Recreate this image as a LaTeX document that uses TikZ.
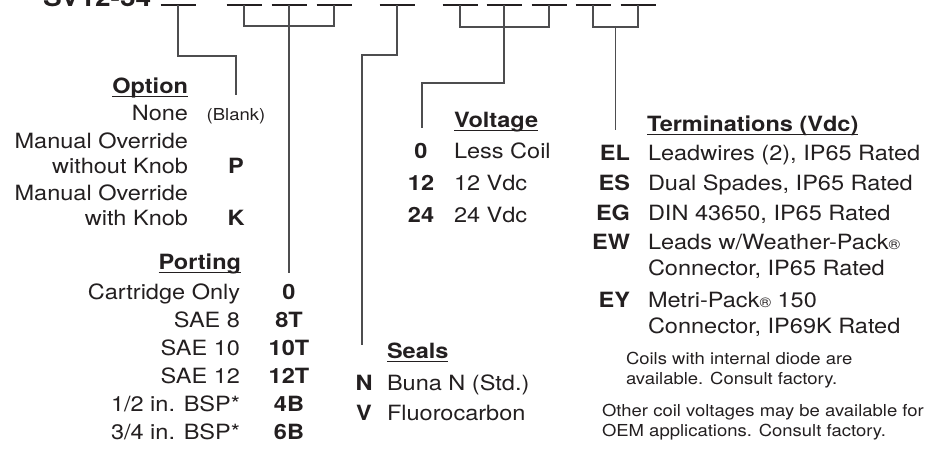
\documentclass[tikz,border=0pt]{standalone}
\usepackage{fontspec}
\setmainfont{TeX Gyre Heros}[FakeStretch=1.12]
\definecolor{ink}{HTML}{231F20}
\definecolor{wirec}{HTML}{4D4D4F}
\begin{document}
\begin{tikzpicture}[x=1pt,y=-1pt,
  every node/.style={inner sep=0pt, outer sep=0pt, text=ink},
  big/.style={font=\fontsize{21}{25}\selectfont},
  bigb/.style={font=\fontsize{21}{25}\selectfont\bfseries},
  small/.style={font=\fontsize{16.5}{20}\selectfont},
  wire/.style={draw=wirec, line width=1.3pt},
  blank/.style={draw=ink, line width=1.2pt},
  uline/.style={draw=ink, line width=1.4pt},
  lbl/.style={big, anchor=base east},
  lblw/.style={big, anchor=base west},
  code/.style={bigb, anchor=base},
  codee/.style={bigb, anchor=base east},
  ttl/.style={bigb}]
\useasboundingbox (0,0) rectangle (940,456);

% part number title (cut off at top)
\node[font=\fontsize{25}{30}\selectfont\bfseries, anchor=base west] (title) at (43,6) {SV12-34};

% blanks
\foreach \n/\x in {1/178,2/244,3/289,4/334,5/397,6/460,7/504,8/549,9/593,10/638}{
  \coordinate (b\n) at (\x,5);
  \draw[blank] ([xshift=-17.5pt]b\n) -- ([xshift=17.5pt]b\n);
}
\coordinate (b910) at (615.5,5);

% connector end points
\coordinate (optend) at (236,95);
\coordinate (portend) at (289,273);
\coordinate (sealend) at (362,345);
\coordinate (voltend) at (422,128);
\coordinate (termend) at (615.5,130);

% connectors
\draw[wire] (b1) -- (b1 |- 0,56) -| (optend);
\draw[wire] (b2) -- (b2 |- 0,26) -- (b4 |- 0,26) -- (b4);
\draw[wire] (b3) -- (portend);
\draw[wire] (b5) -- (b5 |- 0,55) -| (sealend);
\draw[wire] (b6) -- (b6 |- 0,27) -- (b8 |- 0,27) -- (b8);
\draw[wire] (b7) -- (b7 |- 0,83) -| (voltend);
\draw[wire] (b9) -- (b9 |- 0,27) -- (b10 |- 0,27) -- (b10);
\draw[wire] (b910 |- 0,27) -- (termend);

% Option
\node[ttl, anchor=base east] (optT) at (188,93) {Option};
\draw[uline] ([yshift=-3.5pt]optT.base west) -- ([yshift=-3.5pt]optT.base east);
\node[lbl] (o1) at (188,120) {None};
\node[small, anchor=base] (o1c) at (236,120) {(Blank)};
\node[lbl] (o2) at (188,148) {Manual Override};
\node[lbl] (o3) at (188,173) {without Knob};
\node[code] (o3c) at (236,173) {P};
\node[lbl] (o4) at (188,200) {Manual Override};
\node[lbl] (o5) at (188,225) {with Knob};
\node[code] (o5c) at (236,225) {K};

% Porting
\node[ttl, anchor=base east] (pT) at (241,269) {Porting};
\draw[uline] ([yshift=-3.5pt]pT.base west) -- ([yshift=-3.5pt]pT.base east);
\node[lbl] (p1) at (240,299) {Cartridge Only};
\node[code] (p1c) at (289,299) {0};
\node[lbl] (p2) at (240,327) {SAE 8};
\node[code] (p2c) at (289,327) {8T};
\node[lbl] (p3) at (240,355) {SAE 10};
\node[code] (p3c) at (289,355) {10T};
\node[lbl] (p4) at (240,383) {SAE 12};
\node[code] (p4c) at (289,383) {12T};
\node[lbl] (p5) at (240,411) {1/2 in. BSP*};
\node[code] (p5c) at (289,411) {4B};
\node[lbl] (p6) at (240,439) {3/4 in. BSP*};
\node[code] (p6c) at (289,439) {6B};

% Voltage
\node[ttl, anchor=base west] (vT) at (454,127) {Voltage};
\draw[uline] ([yshift=-3.5pt]vT.base west) -- ([yshift=-3.5pt]vT.base east);
\node[code] (v1c) at (421,158) {0};
\node[lblw] (v1) at (454,158) {Less Coil};
\node[code] (v2c) at (421,190) {12};
\node[lblw] (v2) at (454,190) {12 Vdc};
\node[code] (v3c) at (421,222) {24};
\node[lblw] (v3) at (454,222) {24 Vdc};

% Seals
\node[ttl, anchor=base west] (sT) at (387,358) {Seals};
\draw[uline] ([yshift=-3.5pt]sT.base west) -- ([yshift=-3.5pt]sT.base east);
\node[code] (s1c) at (364,390) {N};
\node[lblw] (s1) at (387,390) {Buna N (Std.)};
\node[code] (s2c) at (364,420) {V};
\node[lblw] (s2) at (387,420) {Fluorocarbon};

% Terminations
\node[ttl, anchor=base west] (tT) at (647,131) {Terminations (Vdc)};
\draw[uline] ([yshift=-3.5pt]tT.base west) -- ([yshift=-3.5pt]tT.base east);
\node[codee] (t1c) at (630,160) {EL};
\node[lblw] (t1) at (648,160) {Leadwires (2), IP65 Rated};
\node[codee] (t2c) at (630,190) {ES};
\node[lblw] (t2) at (648,190) {Dual Spades, IP65 Rated};
\node[codee] (t3c) at (630,220) {EG};
\node[lblw] (t3) at (648,220) {DIN 43650, IP65 Rated};
\node[codee] (t4c) at (630,249) {EW};
\node[lblw] (t4) at (648,249) {Leads w/Weather-Pack{\fontsize{14}{14}\selectfont ®}};
\node[lblw] (t4b) at (648,275) {Connector, IP65 Rated};
\node[codee] (t5c) at (630,307) {EY};
\node[lblw] (t5) at (648,307) {Metri-Pack{\fontsize{14}{14}\selectfont ®} 150};
\node[lblw] (t5b) at (648,333) {Connector, IP69K Rated};

% notes
\node[small, anchor=base west] (n1) at (626,364) {Coils with internal diode are};
\node[small, anchor=base west] (n2) at (626,384) {available. Consult factory.};
\node[small, anchor=base west] (n3) at (602,416) {Other coil voltages may be available for};
\node[small, anchor=base west] (n4) at (602,436) {OEM applications. Consult factory.};
\end{tikzpicture}
\end{document}
